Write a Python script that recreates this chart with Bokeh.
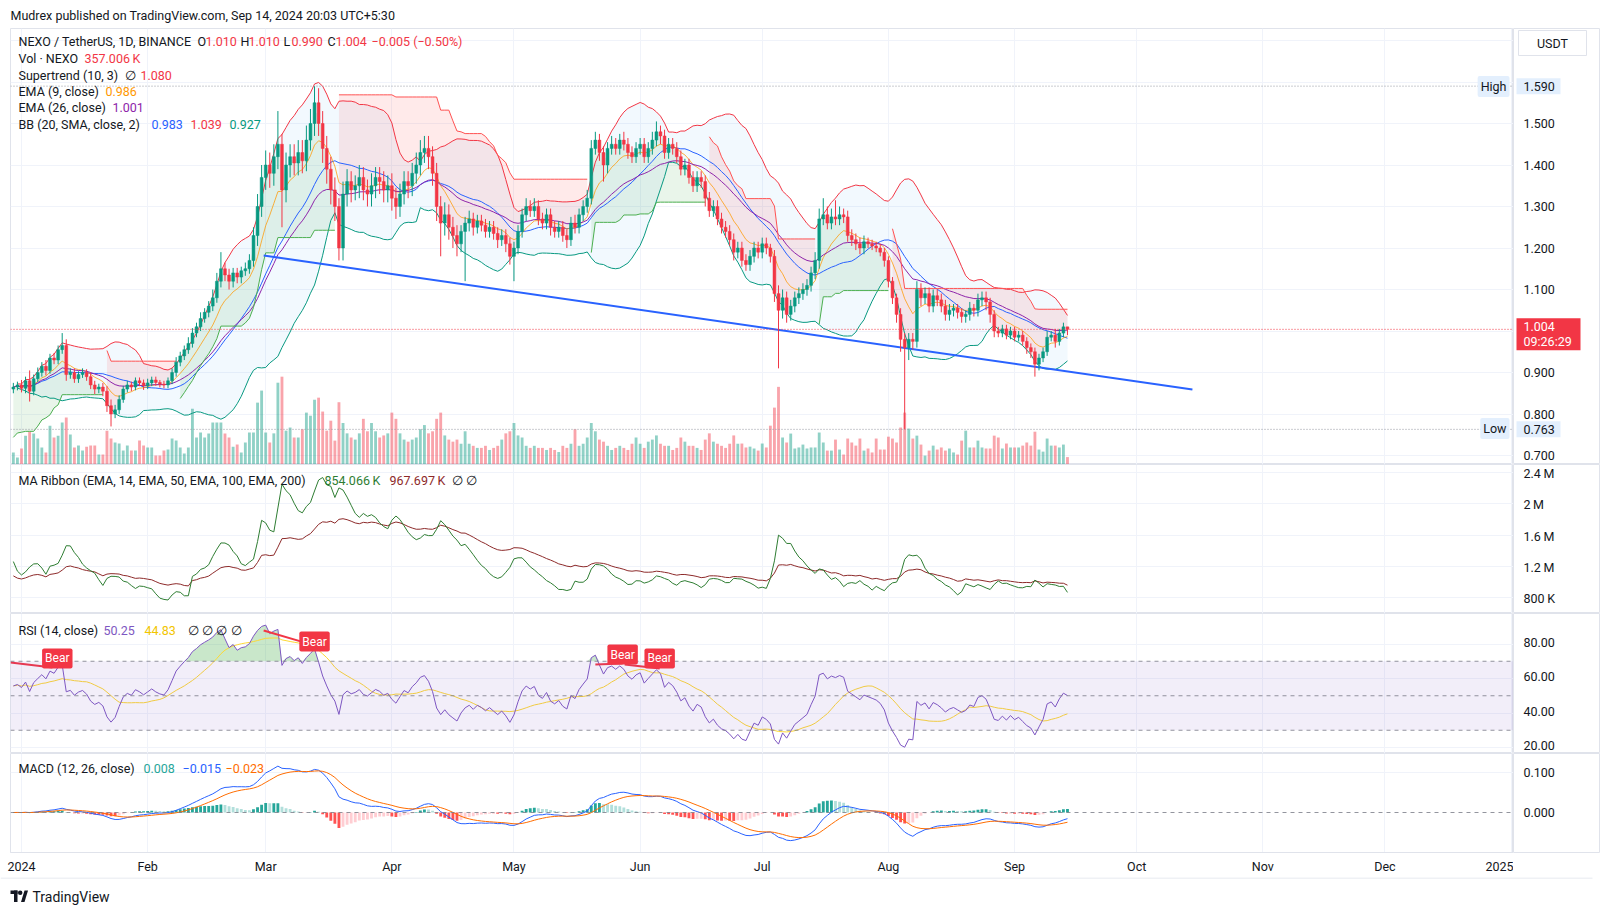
import numpy as np
import pandas as pd
from bokeh.plotting import figure
from bokeh.layouts import column, row
from bokeh.models import (Range1d, FixedTicker, Grid, Span, BoxAnnotation, Label,
                          ColumnDataSource)
from bokeh.core.properties import value
from bokeh.embed import file_html
from bokeh.resources import INLINE

FONT = "Roboto"
TXT = "#131722"
GRIDC = "#f0f3fa"
BORDER = "#e0e3eb"
GREEN = "#089981"
RED = "#F23645"

# ---------------- data (daily, first candle = 30 Dec 2023) ----------------
first_day = -2          # days counted from 1 Jan 2024
first_open = 0.860

close = [
    0.865, 0.870, 0.862, 0.880, 0.855, 0.885, 0.900, 0.915, 0.905, 0.935,
    0.930, 0.955, 0.965, 0.895, 0.900, 0.885, 0.895, 0.900, 0.890, 0.870,
    0.860, 0.865, 0.855, 0.820, 0.800, 0.810, 0.835, 0.860, 0.870, 0.865,
    0.880, 0.875, 0.868, 0.875, 0.882, 0.876, 0.872, 0.870, 0.880, 0.900,
    0.925, 0.940, 0.955, 0.970, 0.995, 1.010, 1.030, 1.045, 1.060, 1.080,
    1.120, 1.150, 1.135, 1.120, 1.140, 1.130, 1.145, 1.150, 1.170, 1.230,
    1.300, 1.370, 1.400, 1.380, 1.420, 1.450, 1.340, 1.400, 1.420, 1.405,
    1.430, 1.410, 1.460, 1.500, 1.550, 1.500, 1.440, 1.390, 1.340, 1.300,
    1.200, 1.330, 1.360, 1.340, 1.350, 1.370, 1.340, 1.330, 1.350, 1.370,
    1.360, 1.340, 1.350, 1.320, 1.300, 1.330, 1.360, 1.350, 1.380, 1.400,
    1.430, 1.440, 1.420, 1.380, 1.300, 1.260, 1.280, 1.250, 1.230, 1.210,
    1.240, 1.260, 1.270, 1.250, 1.265, 1.255, 1.240, 1.250, 1.235, 1.220,
    1.230, 1.210, 1.180, 1.200, 1.240, 1.280, 1.300, 1.290, 1.300, 1.270,
    1.260, 1.280, 1.250, 1.240, 1.250, 1.230, 1.220, 1.260, 1.250, 1.280,
    1.300, 1.320, 1.440, 1.460, 1.430, 1.400, 1.440, 1.450, 1.440, 1.460,
    1.450, 1.430, 1.420, 1.440, 1.450, 1.420, 1.440, 1.460, 1.480, 1.470,
    1.430, 1.450, 1.440, 1.420, 1.390, 1.400, 1.370, 1.350, 1.370, 1.360,
    1.320, 1.290, 1.300, 1.270, 1.250, 1.240, 1.220, 1.190, 1.200, 1.170,
    1.160, 1.180, 1.200, 1.190, 1.210, 1.200, 1.180, 1.090, 1.050, 1.080,
    1.040, 1.060, 1.080, 1.090, 1.100, 1.110, 1.140, 1.170, 1.270, 1.280,
    1.260, 1.275, 1.270, 1.280, 1.275, 1.230, 1.220, 1.210, 1.200, 1.215,
    1.210, 1.205, 1.200, 1.190, 1.170, 1.120, 1.080, 1.040, 0.980, 0.960,
    0.980, 0.975, 1.100, 1.080, 1.090, 1.060, 1.085, 1.075, 1.060, 1.040,
    1.050, 1.055, 1.045, 1.035, 1.040, 1.055, 1.050, 1.075, 1.080, 1.070,
    1.040, 1.000, 0.995, 1.005, 0.990, 1.000, 0.985, 0.990, 0.975, 0.960,
    0.950, 0.920, 0.935, 0.950, 0.985, 0.990, 0.975, 0.995, 1.010, 1.004,
]

# upper / lower wick lengths beyond the body, in thousandths of a dollar
wick_hi = [
    10, 8, 12, 10, 25, 10, 12, 10, 15, 10,
    12, 10, 30, 15, 10, 10, 8, 10, 8, 10,
    10, 8, 10, 12, 15, 12, 10, 8, 10, 8,
    8, 8, 8, 10, 8, 8, 6, 8, 8, 10,
    12, 10, 10, 15, 12, 10, 15, 10, 12, 20,
    20, 40, 15, 15, 12, 12, 10, 15, 15, 20,
    30, 30, 35, 30, 30, 80, 25, 30, 30, 30,
    30, 30, 35, 35, 40, 35, 30, 30, 30, 30,
    20, 30, 30, 25, 25, 30, 25, 25, 30, 25,
    25, 25, 25, 30, 25, 25, 25, 25, 25, 30,
    30, 30, 30, 25, 25, 25, 30, 25, 25, 25,
    15, 15, 20, 15, 15, 15, 15, 15, 15, 15,
    15, 15, 15, 15, 15, 15, 20, 15, 20, 15,
    15, 15, 15, 15, 15, 15, 15, 15, 20, 15,
    15, 20, 20, 20, 15, 15, 15, 20, 15, 15,
    20, 15, 15, 15, 15, 15, 15, 20, 25, 15,
    15, 15, 15, 15, 15, 15, 15, 15, 15, 15,
    15, 15, 15, 15, 15, 15, 15, 15, 15, 15,
    15, 15, 15, 15, 15, 15, 10, 15, 20, 20,
    15, 15, 15, 15, 15, 15, 15, 20, 25, 40,
    20, 20, 40, 20, 15, 15, 15, 15, 15, 15,
    10, 10, 10, 10, 10, 10, 10, 10, 15, 15,
    15, 15, 20, 15, 15, 15, 15, 15, 15, 15,
    15, 10, 10, 10, 10, 15, 10, 15, 15, 15,
    10, 10, 10, 10, 10, 10, 10, 10, 10, 10,
    10, 10, 10, 10, 15, 10, 15, 10, 10, 0,
]
wick_lo = [
    10, 8, 10, 12, 25, 10, 8, 10, 12, 8,
    10, 10, 10, 15, 10, 10, 10, 8, 10, 10,
    12, 10, 12, 15, 30, 10, 10, 8, 8, 10,
    8, 8, 10, 8, 8, 8, 8, 8, 8, 8,
    10, 10, 10, 10, 10, 10, 10, 10, 12, 12,
    12, 15, 15, 20, 15, 15, 15, 12, 12, 15,
    25, 25, 30, 35, 30, 30, 90, 30, 30, 30,
    30, 30, 25, 25, 30, 30, 35, 35, 35, 35,
    30, 30, 30, 30, 25, 30, 25, 30, 30, 30,
    30, 30, 30, 30, 30, 25, 25, 30, 25, 25,
    25, 25, 30, 30, 35, 80, 30, 30, 30, 30,
    20, 120, 20, 20, 15, 15, 15, 15, 15, 20,
    15, 20, 20, 60, 15, 15, 15, 15, 15, 15,
    15, 15, 20, 15, 15, 15, 20, 15, 15, 15,
    15, 15, 15, 15, 20, 40, 20, 15, 15, 15,
    15, 15, 15, 15, 15, 15, 15, 15, 15, 20,
    15, 15, 15, 15, 15, 15, 15, 15, 15, 15,
    20, 15, 15, 15, 15, 15, 15, 20, 15, 15,
    15, 15, 15, 15, 15, 15, 15, 20, 140, 20,
    20, 15, 15, 15, 15, 15, 15, 15, 20, 15,
    15, 15, 15, 15, 15, 15, 15, 15, 15, 15,
    10, 10, 10, 10, 15, 15, 15, 20, 30, 197,
    30, 20, 15, 20, 15, 15, 15, 15, 15, 15,
    15, 15, 15, 15, 15, 15, 15, 15, 15, 20,
    20, 15, 10, 10, 10, 10, 10, 10, 10, 15,
    15, 30, 15, 10, 10, 10, 15, 10, 10, 14,
]

volume_k = [
    580, 340, 770, 1390, 1590, 1490, 1250, 820, 580, 1870,
    1300, 1390, 2020, 2260, 1440, 820, 910, 670, 860, 910,
    910, 480, 480, 1630, 1250, 1060, 1010, 670, 910, 670,
    670, 1150, 910, 820, 820, 430, 430, 670, 720, 1250,
    1150, 820, 530, 820, 2690, 1300, 1540, 1300, 1490, 2020,
    2020, 2020, 1490, 1300, 860, 960, 580, 1060, 1540, 1540,
    2980, 3560, 1540, 1060, 1500, 3940, 4230, 1630, 1780, 1300,
    1300, 1700, 2500, 2350, 3120, 3220, 2550, 1630, 2110, 1150,
    3000, 2000, 1500, 1300, 1200, 1500, 2200, 1600, 2000, 1600,
    1300, 1400, 1500, 2500, 2200, 1500, 1200, 1100, 1200, 1300,
    1700, 1900, 1500, 1600, 2200, 2500, 1400, 1200, 1100, 1200,
    1000, 1600, 1000, 900, 800, 800, 900, 700, 800, 900,
    1200, 1500, 1600, 2000, 1400, 1300, 900, 800, 900, 800,
    800, 700, 800, 700, 600, 900, 800, 1000, 1700, 900,
    1000, 1300, 2000, 1600, 1200, 1100, 900, 700, 800, 900,
    800, 700, 1000, 1300, 1000, 800, 1100, 1200, 1400, 1000,
    900, 900, 700, 800, 1300, 1100, 900, 900, 800, 700,
    1200, 1500, 1100, 1000, 900, 800, 1000, 1400, 1000, 1010,
    820, 860, 770, 670, 1010, 820, 1870, 2740, 3740, 1300,
    1060, 1490, 770, 820, 960, 770, 820, 820, 1540, 1060,
    670, 670, 1200, 720, 480, 1250, 1060, 910, 1250, 670,
    770, 580, 1250, 720, 720, 1340, 1250, 1060, 1780, 2500,
    1730, 1250, 1390, 960, 430, 670, 910, 720, 820, 670,
    770, 580, 480, 1150, 1630, 820, 820, 1150, 820, 770,
    770, 1390, 1300, 770, 1010, 820, 820, 820, 910, 1060,
    910, 1580, 720, 620, 1250, 910, 910, 820, 960, 357,
]

month_days = [0, 31, 60, 91, 121, 152, 182, 213, 244, 274, 305, 335, 366]
month_labels = ["2024", "Feb", "Mar", "Apr", "May", "Jun", "Jul", "Aug",
                "Sep", "Oct", "Nov", "Dec", "2025"]

price_ticks = [0.7, 0.8, 0.9, 1.1, 1.2, 1.3, 1.4, 1.5]
price_grid = [0.7, 0.8, 0.9, 1.0, 1.1, 1.2, 1.3, 1.4, 1.5, 1.6, 1.7]
ma_ticks = [800000, 1200000, 1600000, 2000000, 2400000]
rsi_ticks = [20, 40, 60, 80]
macd_ticks = [0.0, 0.1]

high_val, low_val, last_price = 1.590, 0.763, 1.004
countdown = "09:26:29"

# drawn trend line (day, price)
trend_x = [59.5, 287.7]
trend_y = [1.182, 0.859]

# RSI bearish-divergence drawings (day, rsi)
bear_line_x0 = [-2.7, 59.5, 141.0, 148.2]
bear_line_y0 = [69.3, 87.8, 68.1, 68.1]
bear_line_x1 = [7.6, 71.5, 147.7, 156.8]
bear_line_y1 = [66.4, 79.5, 68.7, 65.8]
bear_lab_x = [8.8, 72.0, 147.7, 156.8]
bear_lab_y = [71.6, 81.4, 73.9, 71.6]

# ---------------- derived series ----------------
n = len(close)
day = np.arange(n) + first_day
c = np.array(close, dtype=float)
o = np.concatenate([[first_open], c[:-1]])
h = np.maximum(o, c) + np.array(wick_hi) / 1000.0
l = np.minimum(o, c) - np.array(wick_lo) / 1000.0
vol = np.array(volume_k, dtype=float) * 1000.0
is_up = c >= o
cand_col = np.where(is_up, GREEN, RED)

s = pd.Series(c)
ema9 = s.ewm(span=9, adjust=True).mean().values
ema26 = s.ewm(span=26, adjust=True).mean().values
basis = s.rolling(20, min_periods=2).mean().values
sd = s.rolling(20, min_periods=2).std(ddof=0).values
bbu = basis + 2 * sd
bbl = basis - 2 * sd


def rma(x, length):
    out = np.zeros(len(x))
    out[0] = np.mean(x[:length])
    for i in range(1, len(x)):
        out[i] = (out[i - 1] * (length - 1) + x[i]) / length
    return out


def ema_seeded(x, span):
    a = 2.0 / (span + 1)
    out = np.zeros(len(x))
    out[0] = np.mean(x[:span])
    for i in range(1, len(x)):
        out[i] = a * x[i] + (1 - a) * out[i - 1]
    return out


# Supertrend (10, 3)
prev_c = np.concatenate([[c[0]], c[:-1]])
tr = np.maximum.reduce([h - l, np.abs(h - prev_c), np.abs(l - prev_c)])
atr = rma(tr, 10)
hl2 = (h + l) / 2
ub = hl2 + 3 * atr
lb = hl2 - 3 * atr
fu = ub.copy()
fl = lb.copy()
trend = np.ones(n, dtype=int)
st = np.zeros(n)
for i in range(n):
    if i > 0:
        fl[i] = max(lb[i], fl[i - 1]) if c[i - 1] > fl[i - 1] else lb[i]
        fu[i] = min(ub[i], fu[i - 1]) if c[i - 1] < fu[i - 1] else ub[i]
        t = trend[i - 1]
        if t == -1 and c[i] > fu[i - 1]:
            t = 1
        elif t == 1 and c[i] < fl[i - 1]:
            t = -1
        trend[i] = t
    st[i] = fl[i] if trend[i] == 1 else fu[i]
body_mid = (o + c) / 2

segs = []
start = 0
for i in range(1, n + 1):
    if i == n or trend[i] != trend[start]:
        segs.append((start, i))
        start = i
st_line = {"xs": [], "ys": [], "color": []}
st_fill = {"xs": [], "ys": [], "color": []}
for a, b in segs:
    xs = list(day[a:b])
    ys = list(st[a:b])
    col = "#4CAF50" if trend[a] == 1 else "#FF5252"
    st_line["xs"].append(xs)
    st_line["ys"].append(ys)
    st_line["color"].append(col)
    st_fill["xs"].append(xs + xs[::-1])
    st_fill["ys"].append(ys + list(body_mid[a:b])[::-1])
    st_fill["color"].append(col)

# RSI 14 + SMA 14
dlt = np.diff(c, prepend=c[0])
gain = np.clip(dlt, 0, None)
loss = np.clip(-dlt, 0, None)
ag = rma(np.concatenate([[np.mean(gain[1:15])], gain[1:]]), 14)
al = rma(np.concatenate([[np.mean(loss[1:15])], loss[1:]]), 14)
rsi = 100 - 100 / (1 + ag / al)
rsi_ma = pd.Series(rsi).rolling(14, min_periods=1).mean().values

# MACD 12/26/9
macd = (s.ewm(span=12, adjust=True).mean() - s.ewm(span=26, adjust=True).mean())
sig = macd.ewm(span=9, adjust=True).mean()
hist = (macd - sig).values
prev_h = np.concatenate([[0.0], hist[:-1]])
hist_col = np.where(hist >= 0,
                    np.where(hist >= prev_h, "#26A69A", "#B2DFDB"),
                    np.where(hist < prev_h, "#FF5252", "#FFCDD2"))

# MA ribbon on volume
ve14 = ema_seeded(vol, 14)
ve50 = ema_seeded(vol, 50)

# ---------------- layout helpers ----------------
FRAME_L = 10          # page x of the plotting area's left edge
FRAME_W = 1503        # width of plotting area
SIDE_W = 87           # price-scale column
PX_PER_DAY = 4.07
X0 = -2.7
X1 = X0 + FRAME_W / PX_PER_DAY
xr = Range1d(X0, X1)


def pane(height, y0, y1, tick_vals, tick_txt, xaxis=False, label_dy=0):
    yr = Range1d(y0, y1)
    bottom = 25 if xaxis else 0
    p = figure(width=FRAME_L + FRAME_W, height=height, x_range=xr, y_range=yr,
               output_backend="svg", toolbar_location=None,
               x_axis_location="below" if xaxis else None, y_axis_location=None,
               min_border_left=FRAME_L, min_border_right=0,
               min_border_top=0, min_border_bottom=bottom)
    p.outline_line_color = BORDER
    p.border_fill_color = "white"
    p.background_fill_color = "white"
    p.grid.grid_line_color = None
    p.add_layout(Grid(dimension=0, ticker=FixedTicker(ticks=month_days),
                      grid_line_color=GRIDC, grid_line_width=1))
    if xaxis:
        xa = p.xaxis[0]
        xa.ticker = FixedTicker(ticks=month_days)
        xa.major_label_overrides = {d: t for d, t in zip(month_days, month_labels)}
        xa.axis_line_color = BORDER
        xa.major_tick_line_color = None
        xa.minor_tick_line_color = None
        xa.major_tick_out = 0
        xa.major_tick_in = 0
        xa.major_label_standoff = 6
        xa.major_label_text_font = FONT
        xa.major_label_text_font_size = "12.5px"
        xa.major_label_text_color = TXT
    sc = figure(width=SIDE_W, height=height, x_range=Range1d(0, SIDE_W), y_range=yr,
                output_backend="svg", toolbar_location=None,
                x_axis_location=None, y_axis_location=None,
                min_border_left=0, min_border_right=0, min_border_top=0,
                min_border_bottom=bottom)
    sc.outline_line_color = BORDER
    sc.border_fill_color = "white"
    sc.background_fill_color = "white"
    sc.grid.grid_line_color = None
    sc.text(x=[10] * len(tick_vals), y=tick_vals, text=tick_txt, text_color=TXT,
            text_font=value(FONT), text_font_size=value("12.5px"),
            text_baseline="middle", text_align="left", y_offset=label_dy)
    return p, sc


def hgrid(p, ticks):
    p.add_layout(Grid(dimension=1, ticker=FixedTicker(ticks=ticks),
                      grid_line_color=GRIDC, grid_line_width=1))


def legend(p, bottom, ypage, items, size="12.5px"):
    for xp, txt, col in items:
        p.add_layout(Label(x=xp - FRAME_L, y=bottom - ypage, x_units="screen", y_units="screen",
                           text=txt, text_color=col, text_font=FONT, text_font_size=size,
                           text_baseline="middle", text_align="left"))


def boxlabel(p, x, y, txt, bg, fg, align="left", size="12.5px", pad=3, units="screen"):
    kw = dict(x=x, y=y, x_units=units, y_units=units, text=txt, text_color=fg,
              text_font=FONT, text_font_size=size, text_align=align, text_baseline="middle",
              background_fill_color=bg, background_fill_alpha=1.0)
    try:
        lab = Label(padding=pad, border_radius=2, **kw)
    except Exception:
        lab = Label(**kw)
    p.add_layout(lab)


def side_tag(sc, yval, txt, bg, fg, px_per_unit, half_px=8, x0=3, x1=47):
    d = half_px / px_per_unit
    sc.quad(left=[x0], right=[x1], bottom=[yval - d], top=[yval + d],
            fill_color=bg, line_color=None)
    sc.text(x=[10], y=[yval], text=[txt], text_color=fg, text_font=value(FONT),
            text_font_size=value("12.5px"), text_baseline="middle", text_align="left")


# ---------------- header ----------------
TOTAL_W = FRAME_L + FRAME_W + SIDE_W
hdr = figure(width=TOTAL_W, height=28, x_range=Range1d(0, TOTAL_W), y_range=Range1d(0, 28),
             output_backend="svg", toolbar_location=None, x_axis_location=None,
             y_axis_location=None, min_border=0)
hdr.outline_line_color = None
hdr.grid.grid_line_color = None
hdr.add_layout(Label(x=10, y=13, x_units="screen", y_units="screen",
                     text="Mudrex published on TradingView.com, Sep 14, 2024 20:03 UTC+5:30",
                     text_color=TXT, text_font=FONT, text_font_size="12.5px",
                     text_baseline="middle"))

# ---------------- price pane ----------------
P_TOP, P_BOT = 28, 464
PPU = 415.0                               # pixels per 1.0 USDT
p_y0 = 0.9 + (372 - P_BOT) / PPU
p_y1 = 0.9 + (372 - P_TOP) / PPU
pp, sp = pane(P_BOT - P_TOP, p_y0, p_y1, price_ticks, [f"{t:.3f}" for t in price_ticks])
hgrid(pp, price_grid)
pp.extra_y_ranges = {"vol": Range1d(0, 21.0e6)}

pp.varea(x=day[1:], y1=bbl[1:], y2=bbu[1:], fill_color="#2196F3", fill_alpha=0.06)
pp.patches(xs="xs", ys="ys", fill_color="color", fill_alpha=0.12, line_color=None,
           source=ColumnDataSource(st_fill))
pp.vbar(x=day, top=vol, width=0.7, y_range_name="vol", fill_color=cand_col,
        line_color=None, fill_alpha=0.45)
pp.line(day[1:], bbu[1:], line_color=RED, line_width=1)
pp.line(day[1:], bbl[1:], line_color=GREEN, line_width=1)
pp.line(day[1:], basis[1:], line_color="#2962FF", line_width=1)
pp.line(day, ema9, line_color="#FF9800", line_width=1, line_alpha=0.75)
pp.line(day, ema26, line_color="#8E24AA", line_width=1)
pp.multi_line(xs="xs", ys="ys", line_color="color", line_width=1,
              source=ColumnDataSource(st_line))
pp.line(trend_x, trend_y, line_color="#2962FF", line_width=2)
pp.segment(x0=day, y0=l, x1=day, y1=h, line_color=cand_col, line_width=1)
pp.vbar(x=day, bottom=np.minimum(o, c), top=np.maximum(o, c), width=0.7,
        fill_color=cand_col, line_color=cand_col, line_width=0.5)
pp.add_layout(Span(location=last_price, dimension="width", line_color=RED,
                   line_dash="1 2", line_width=1))
pp.add_layout(Span(location=high_val, dimension="width", line_color="#9598a1",
                   line_dash="1 2", line_width=1))
pp.add_layout(Span(location=low_val, dimension="width", line_color="#9598a1",
                   line_dash="1 2", line_width=1))

legend(pp, P_BOT, 41, [
    (18, "NEXO / TetherUS, 1D, BINANCE", TXT), (197, "O", TXT), (205, "1.010", RED),
    (240, "H", TXT), (248, "1.010", RED), (283, "L", TXT), (291, "0.990", RED),
    (327, "C", TXT), (335, "1.004", RED), (371, "\u22120.005 (\u22120.50%)", RED)])
legend(pp, P_BOT, 58, [(18, "Vol \u00b7 NEXO", TXT), (84, "357.006\u2009K", RED)])
legend(pp, P_BOT, 74.5, [(18, "Supertrend (10, 3)", TXT), (124, "\u2205", TXT),
                         (140, "1.080", RED)])
legend(pp, P_BOT, 91, [(18, "EMA (9, close)", TXT), (105, "0.986", "#FF9800")])
legend(pp, P_BOT, 107, [(18, "EMA (26, close)", TXT), (112, "1.001", "#8E24AA")])
legend(pp, P_BOT, 123.5, [(18, "BB (20, SMA, close, 2)", TXT), (151, "0.983", "#2962FF"),
                          (190, "1.039", RED), (229, "0.927", GREEN)])

boxlabel(pp, FRAME_W - 4, P_BOT - 86, "High", "#e3effd", TXT, align="right")
boxlabel(pp, FRAME_W - 4, P_BOT - 428, "Low", "#e3effd", TXT, align="right")

# price-scale tags
side_tag(sp, high_val, "1.590", "#e3effd", TXT, PPU)
side_tag(sp, low_val, "0.763", "#e3effd", TXT, PPU)
sp.quad(left=[3], right=[67], bottom=[last_price - 21 / PPU], top=[last_price + 11 / PPU],
        fill_color=RED, line_color=None)
sp.text(x=[10, 10], y=[last_price, last_price], text=[f"{last_price:.3f}", countdown],
        y_offset=[-3, 12], text_color="white", text_font=value(FONT),
        text_font_size=value("12.5px"), text_baseline="middle", text_align="left")
usdt_top = 0.9 + (372 - 30) / PPU
usdt_bot = 0.9 + (372 - 55) / PPU
sp.quad(left=[5], right=[73], bottom=[usdt_bot], top=[usdt_top], fill_color="white",
        line_color=BORDER, line_width=1)
sp.text(x=[39], y=[(usdt_top + usdt_bot) / 2], text=["USDT"], text_color=TXT,
        text_font=value(FONT), text_font_size=value("12.5px"), text_baseline="middle",
        text_align="center")

# ---------------- MA ribbon pane ----------------
M_TOP, M_BOT = 464, 613
m_y1 = 0.8e6 + (597 - M_TOP) / 31.2 * 0.4e6
m_y0 = 0.8e6 + (597 - M_BOT) / 31.2 * 0.4e6


def vol_fmt(t):
    if t >= 1e6:
        v = t / 1e6
        return (f"{v:.1f}".rstrip("0").rstrip(".")) + "\u2009M"
    return f"{int(round(t / 1e3))}\u2009K"


pm, sm = pane(M_BOT - M_TOP, m_y0, m_y1, ma_ticks, [vol_fmt(t) for t in ma_ticks], label_dy=1)
hgrid(pm, ma_ticks)
pm.line(day, ve50, line_color="#8d2a2a", line_width=1)
pm.line(day, ve14, line_color="#2e7d32", line_width=1)
legend(pm, M_BOT, 480, [
    (18, "MA Ribbon (EMA, 14, EMA, 50, EMA, 100, EMA, 200)", TXT),
    (324, "854.066\u2009K", "#2e7d32"), (389, "967.697\u2009K", "#8d2a2a"),
    (451, "\u2205", TXT), (465, "\u2205", TXT)])

# ---------------- RSI pane ----------------
R_TOP, R_BOT = 613, 753
r_y1 = 20 + (747 - R_TOP) / 1.725
r_y0 = 20 + (747 - R_BOT) / 1.725
pr, sr = pane(R_BOT - R_TOP, r_y0, r_y1, rsi_ticks, [f"{t:.2f}" for t in rsi_ticks], label_dy=-2)
hgrid(pr, rsi_ticks)
pr.add_layout(BoxAnnotation(bottom=30, top=70, fill_color="#7E57C2", fill_alpha=0.1,
                            line_color=None))
for lv in (70, 50, 30):
    pr.add_layout(Span(location=lv, dimension="width", line_color="#787B86",
                       line_dash="4 4", line_width=1, line_alpha=0.8))
pr.varea(x=day, y1=np.full(n, 70.0), y2=np.maximum(rsi, 70.0),
         fill_color="#4CAF50", fill_alpha=0.3)
pr.line(day, rsi_ma, line_color="#FDD835", line_width=1)
pr.line(day, rsi, line_color="#7E57C2", line_width=1)
pr.segment(x0=bear_line_x0, y0=bear_line_y0, x1=bear_line_x1, y1=bear_line_y1,
           line_color=RED, line_width=2)
for bx, by in zip(bear_lab_x, bear_lab_y):
    boxlabel(pr, bx, by, "Bear", RED, "white", align="center", size="12px", pad=3, units="data")
legend(pr, R_BOT, 630, [
    (18, "RSI (14, close)", TXT), (103, "50.25", "#7E57C2"), (144, "44.83", "#F2C500"),
    (187, "\u2205", TXT), (201, "\u2205", TXT), (215, "\u2205", TXT), (230, "\u2205", TXT)])

# ---------------- MACD pane ----------------
C_TOP, C_BOT = 753, 852
c_y1 = (812 - C_TOP) / 400
c_y0 = (812 - C_BOT) / 400
pc, scm = pane(C_BOT - C_TOP + 25, c_y0, c_y1, macd_ticks, [f"{t:.3f}" for t in macd_ticks],
               xaxis=True)
hgrid(pc, [0.1])
pc.add_layout(Span(location=0, dimension="width", line_color="#787B86",
                   line_dash="4 4", line_width=1, line_alpha=0.8))
pc.vbar(x=day, top=hist, bottom=0, width=0.7, fill_color=hist_col, line_color=None)
pc.line(day, macd.values, line_color="#2962FF", line_width=1)
pc.line(day, sig.values, line_color="#FF6D00", line_width=1)
legend(pc, C_BOT, 768, [
    (18, "MACD (12, 26, close)", TXT), (143, "0.008", "#26A69A"),
    (182, "\u22120.015", "#2962FF"), (225, "\u22120.023", "#FF6D00")])

# ---------------- footer ----------------
FT_H = 912 - 877
ft = figure(width=TOTAL_W, height=FT_H, x_range=Range1d(0, TOTAL_W), y_range=Range1d(0, FT_H),
            output_backend="svg", toolbar_location=None, x_axis_location=None,
            y_axis_location=None, min_border=0)
ft.outline_line_color = None
ft.grid.grid_line_color = None
ft.line([0, TOTAL_W - 8], [FT_H - 0.5, FT_H - 0.5], line_color=BORDER, line_width=1)
ft.quad(left=[10, 13.5], right=[17, 17], bottom=[18.5, 10.5], top=[22, 22],
        fill_color=TXT, line_color=None)
ft.scatter([19.7], [19.8], size=4.5, fill_color=TXT, line_color=None)
ft.patch([20.5, 24, 27.5, 24], [10.5, 10.5, 22, 22], fill_color=TXT, line_color=None)
ft.add_layout(Label(x=32, y=16, x_units="screen", y_units="screen", text="TradingView",
                    text_color=TXT, text_font=FONT, text_font_size="14px",
                    text_baseline="middle"))

layout = column(hdr, row(pp, sp, spacing=0), row(pm, sm, spacing=0),
                row(pr, sr, spacing=0), row(pc, scm, spacing=0), ft, spacing=0)
open("out.html", "w").write(file_html(layout, INLINE))
